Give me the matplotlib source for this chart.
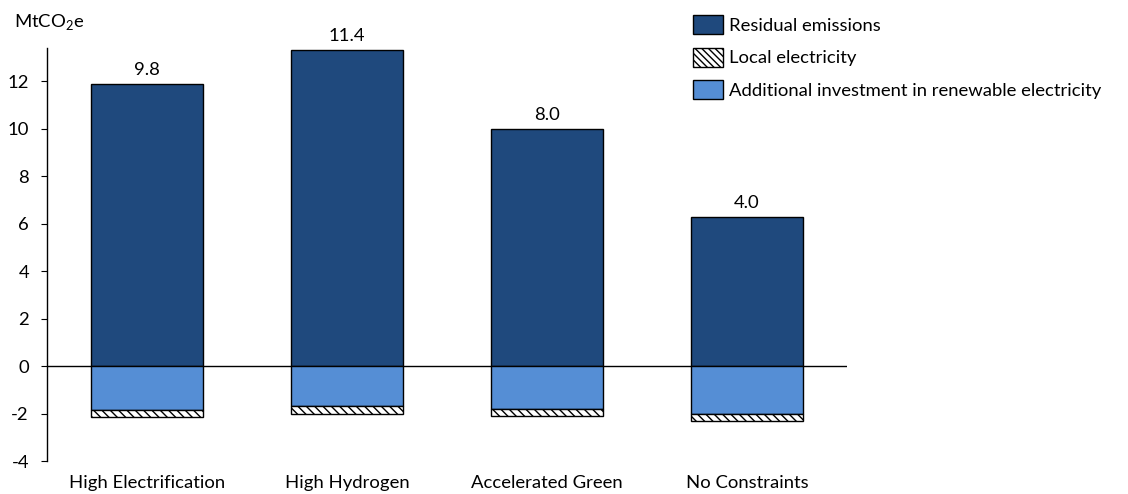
import matplotlib
matplotlib.use("Agg")
import matplotlib.pyplot as plt
from matplotlib.patches import Patch

plt.rcParams['font.family'] = ['Lato', 'DejaVu Sans']
plt.rcParams['mathtext.fontset'] = 'custom'
plt.rcParams['mathtext.rm'] = 'Lato'
plt.rcParams['hatch.linewidth'] = 1.0
plt.rcParams['axes.unicode_minus'] = False

# Data
scenarios = ['High Electrification', 'High Hydrogen', 'Accelerated Green', 'No Constraints']
residual = [11.9, 13.3, 10.0, 6.3]
renewable = [-1.87, -1.7, -1.82, -2.0]
local = [-0.28, -0.32, -0.3, -0.32]
net_labels = ['9.8', '11.4', '8.0', '4.0']

dark_blue = '#1F497D'
light_blue = '#558ED5'
fs = 13.3

fig = plt.figure(figsize=(11.28, 4.94), dpi=100)
ax = fig.add_axes([0.0417, 0.0668, 0.7092, 0.836])

x = range(len(scenarios))
w = 0.56
ax.bar(x, residual, width=w, color=dark_blue, edgecolor='black', linewidth=1.0)
ax.bar(x, renewable, width=w, color=light_blue, edgecolor='black', linewidth=1.0)
ax.bar(x, local, width=w, bottom=renewable, color='white', edgecolor='black',
       hatch='\\\\\\\\', linewidth=1.0)

for i in x:
    ax.text(i, residual[i] + 0.25, net_labels[i], ha='center', va='bottom', fontsize=fs)

ax.axhline(0, color='black', linewidth=1.0, zorder=0.5)

ax.set_xlim(-0.5, 3.5)
ax.set_ylim(-4, 13.4)
ax.set_yticks(range(-4, 13, 2))
ax.set_xticks(list(x))
ax.set_xticklabels(scenarios, fontsize=fs)
ax.tick_params(axis='x', length=0, pad=10)
ax.tick_params(axis='y', direction='out', length=4, labelsize=fs, pad=9)
for s in ['top', 'right', 'bottom']:
    ax.spines[s].set_visible(False)
ax.spines['left'].set_linewidth(1.0)

fig.text(0.012, 0.955, 'MtCO$_\\mathregular{2}$e', fontsize=fs, ha='left', va='center')

handles = [Patch(facecolor=dark_blue, edgecolor='black', label='Residual emissions'),
           Patch(facecolor='white', edgecolor='black', hatch='\\\\\\\\\\', label='Local electricity'),
           Patch(facecolor=light_blue, edgecolor='black', label='Additional investment in renewable electricity')]
fig.legend(handles=handles, loc='upper left', bbox_to_anchor=(0.6, 1.003), frameon=False,
           fontsize=fs, handlelength=1.6, handleheight=1.2, labelspacing=0.74, handletextpad=0.35)

fig.savefig('out.png', dpi=100)
